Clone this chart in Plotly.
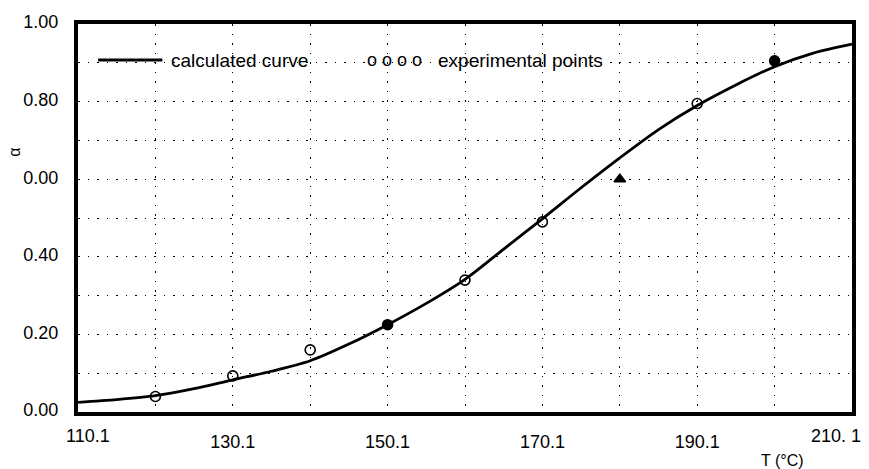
import plotly.graph_objects as go

# ---- data ----
curve_T = [110.1, 115.1, 120.1, 125.1, 130.1, 135.1, 140.1, 145.1, 150.1, 155.1, 160.1,
           165.1, 170.1, 175.1, 180.1, 185.1, 190.1, 195.1, 200.1, 205.1, 210.1]
curve_alpha = [0.025, 0.032, 0.042, 0.060, 0.083, 0.105, 0.132, 0.175, 0.225, 0.280, 0.342,
               0.420, 0.498, 0.578, 0.655, 0.728, 0.790, 0.843, 0.890, 0.925, 0.948]

exp_T = [120.1, 130.1, 140.1, 150.1, 160.1, 170.1, 180.1, 190.1, 200.1]
exp_alpha = [0.040, 0.093, 0.160, 0.225, 0.340, 0.490, 0.600, 0.795, 0.905]

x_tick_vals = [110.1, 120.1, 130.1, 140.1, 150.1, 160.1, 170.1, 180.1, 190.1, 200.1, 210.1]
x_tick_text = ["110.1", "", "130.1", "", "150.1", "", "170.1", "", "190.1", "", "210. 1"]
y_tick_vals = [0.0, 0.1, 0.2, 0.3, 0.4, 0.5, 0.6, 0.7, 0.8, 0.9, 1.0]
y_tick_text = ["0.00", "", "0.20", "", "0.40", "", "0.00", "", "0.80", "", "1.00"]

# ---- styles ----
exp_symbols = ["circle-open", "circle-open", "circle-open", "circle", "circle-open",
               "circle-open", "triangle-up", "circle-open", "circle"]

FONT = "Liberation Sans, Arial, sans-serif"

fig = go.Figure()
fig.add_trace(go.Scatter(
    x=curve_T, y=curve_alpha, mode="lines",
    line=dict(color="black", width=2.8, shape="spline", smoothing=0.8),
    name="calculated curve", showlegend=False))
fig.add_trace(go.Scatter(
    x=exp_T, y=exp_alpha, mode="markers",
    marker=dict(symbol=exp_symbols, size=10, color="black",
                line=dict(color="black", width=1.6)),
    name="experimental points", showlegend=False))

# legend (custom, inside plot)
fig.add_shape(type="rect", xref="paper", yref="paper", x0=0.003, x1=0.69, y0=0.86, y1=0.945,
              fillcolor="white", line=dict(width=0), layer="between")
fig.add_shape(type="line", xref="paper", yref="paper", x0=0.026, x1=0.109, y0=0.907, y1=0.907,
              line=dict(color="black", width=3), layer="above")
fig.add_annotation(xref="paper", yref="paper", x=0.118, y=0.907, xanchor="left", yanchor="middle",
                   text="calculated curve", showarrow=False,
                   font=dict(family=FONT, size=19, color="black"))
fig.add_annotation(xref="paper", yref="paper", x=0.371, y=0.907, xanchor="left", yanchor="middle",
                   text="o o o o", showarrow=False,
                   font=dict(family=FONT, size=18, color="black"))
fig.add_annotation(xref="paper", yref="paper", x=0.463, y=0.907, xanchor="left", yanchor="middle",
                   text="experimental points", showarrow=False,
                   font=dict(family=FONT, size=19, color="black"))

# end tick labels (offset inward as in the reference)
fig.add_annotation(xref="paper", yref="paper", x=0.013, y=-0.063, xanchor="center", yanchor="middle",
                   text=x_tick_text[0], showarrow=False,
                   font=dict(family=FONT, size=18, color="black"))
fig.add_annotation(xref="paper", yref="paper", x=0.979, y=-0.063, xanchor="center", yanchor="middle",
                   text=x_tick_text[-1], showarrow=False,
                   font=dict(family=FONT, size=18, color="black"))
x_tick_text_axis = [""] + x_tick_text[1:-1] + [""]

# axis titles
fig.add_annotation(xref="paper", yref="paper", x=-0.083, y=0.67, xanchor="center", yanchor="middle",
                   text="α", textangle=-90, showarrow=False,
                   font=dict(family=FONT, size=16, color="black"))
fig.add_annotation(xref="paper", yref="paper", x=0.91, y=-0.125, xanchor="center", yanchor="middle",
                   text="T (°C)", showarrow=False,
                   font=dict(family=FONT, size=16, color="black"))

grid = dict(gridcolor="black", gridwidth=1.3, griddash="1.5px,8px")

fig.update_xaxes(range=[110.1, 210.1], tickvals=x_tick_vals, ticktext=x_tick_text_axis,
                 showgrid=True, **grid, zeroline=False, showline=True, linecolor="black",
                 linewidth=4, mirror=True, ticks="", ticklabelstandoff=10,
                 tickfont=dict(family=FONT, size=18, color="black"))
fig.update_yaxes(range=[0, 1.0], tickvals=y_tick_vals, ticktext=y_tick_text,
                 showgrid=True, **grid, zeroline=False, showline=True, linecolor="black",
                 linewidth=4, mirror=True, ticks="", ticklabelstandoff=12, ticklabelshift=-2,
                 tickfont=dict(family=FONT, size=18, color="black"))

fig.update_layout(width=869, height=469, margin=dict(l=78, r=17, t=15, b=57),
                  plot_bgcolor="white", paper_bgcolor="white", showlegend=False)

fig.write_html("out.html")
